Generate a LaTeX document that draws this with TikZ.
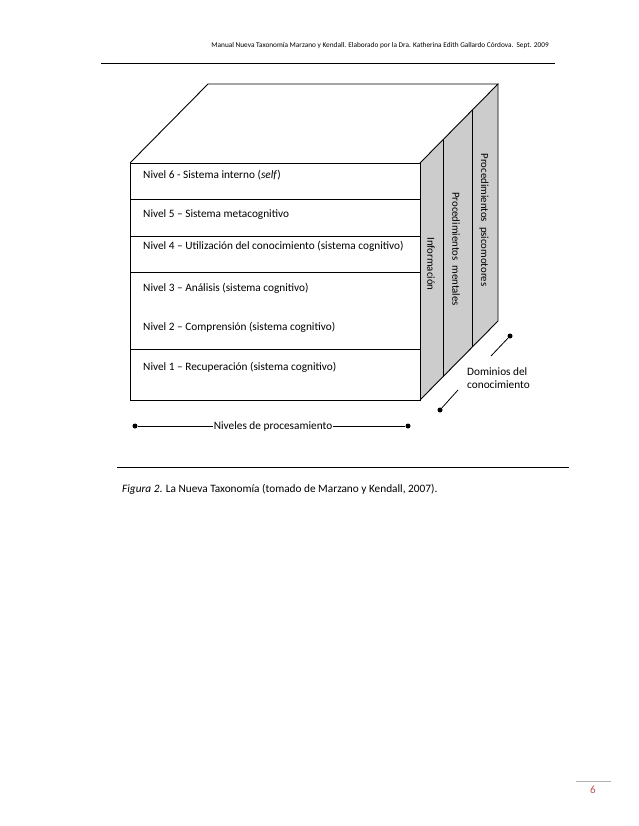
\documentclass[tikz,border=0pt]{standalone}
\usepackage{fontspec}
\setmainfont{Carlito}
\usetikzlibrary{calc}
\definecolor{pagered}{RGB}{192,80,77}
\begin{document}
\begin{tikzpicture}[x=1pt,y=-1pt,
  edge/.style={line width=0.9pt},
  txt/.style={font=\fontsize{11.3}{13}\selectfont,inner sep=0},
  lvl/.style={txt,anchor=west},
  dom/.style={font=\fontsize{10.8}{13}\selectfont,inner sep=0,rotate=-90},
  dotend/.style={circle,fill=black,inner sep=0,minimum size=5pt}
]
\useasboundingbox (0,0) rectangle (638,826);
% header
\node[anchor=east,font=\fontsize{7.3}{8}\selectfont,inner sep=0] (hdr) at (549,46) {Manual Nueva Taxonomía Marzano y Kendall. Elaborado por la Dra. Katherina Edith Gallardo Córdova.\ \ Sept. 2009};
\coordinate (hl) at (101,64); \coordinate (hr) at (555,64);
\draw[line width=1pt] (hl) -- (hr);
% box corners
\coordinate (A) at (130,163);
\coordinate (B) at (420,163);
\coordinate (C) at (420,400);
\coordinate (D) at (130,400);
\coordinate (E) at (208,84);
\coordinate (F) at (498,84);
\coordinate (G) at (498,321);
\fill[black!20] (B) -- (F) -- (G) -- (C) -- cycle;
\draw[edge] (A) -- (B) -- (C) -- (D) -- cycle;
\draw[edge] (A) -- (E) -- (F) -- (B);
\draw[edge] (F) -- (G) -- (C);
% domain dividers
\draw[edge] ($(B)!0.295!(F)$) -- ($(C)!0.295!(G)$);
\draw[edge] ($(B)!0.667!(F)$) -- ($(C)!0.667!(G)$);
% level dividers
\foreach \yy in {199,236,272,349} {
  \draw[edge] (130,\yy) -- (420,\yy);
}
% level texts
\node[lvl] (n6) at (143,175) {Nivel 6 - Sistema interno (\textit{self})};
\node[lvl] (n5) at (143,215) {Nivel 5 – Sistema metacognitivo};
\node[lvl] (n4) at (143,246) {Nivel 4 – Utilización del conocimiento (sistema cognitivo)};
\node[lvl] (n3) at (143,288) {Nivel 3 – Análisis (sistema cognitivo)};
\node[lvl] (n2) at (143,327) {Nivel 2 – Comprensión (sistema cognitivo)};
\node[lvl] (n1) at (143,367) {Nivel 1 – Recuperación (sistema cognitivo)};
% domain texts
\node[dom] (d1t) at (431,264) {Información};
\node[dom] (d2t) at (456,249) {Procedimientos\ \ mentales};
\node[dom] (d3t) at (484,220) {Procedimientos\ \ psicomotores};
% dominios label
\node[txt,align=left,anchor=west] (dom) at (467,378) {Dominios del\\conocimiento};
\node[dotend] (p1) at (510,336) {};
\coordinate (p1e) at (491,356);
\draw[line width=0.8pt] (p1) -- (p1e);
\node[dotend] (p2) at (440,410) {};
\coordinate (p2e) at (458,390);
\draw[line width=0.8pt] (p2) -- (p2e);
% niveles de procesamiento
\node[dotend] (l1) at (135,426) {};
\node[dotend] (r1) at (408,426) {};
\node[txt,inner xsep=1pt] (nv) at (273,426) {Niveles de procesamiento};
\draw[line width=0.8pt] (l1) -- (nv.west);
\draw[line width=0.8pt] (nv.east) -- (r1);
% separator and caption
\coordinate (sl) at (117,467); \coordinate (sr) at (569,467);
\draw[line width=1pt] (sl) -- (sr);
\node[txt,anchor=west] (cap) at (122,489) {\textit{Figura 2}. La Nueva Taxonomía (tomado de Marzano y Kendall, 2007).};
% page number
\coordinate (pl) at (576,781); \coordinate (pr) at (611,781);
\draw[black!30,line width=0.6pt] (pl) -- (pr);
\node[font=\fontsize{11}{12}\selectfont,text=pagered,inner sep=0] (pg) at (593,790) {6};
\end{tikzpicture}
\end{document}
